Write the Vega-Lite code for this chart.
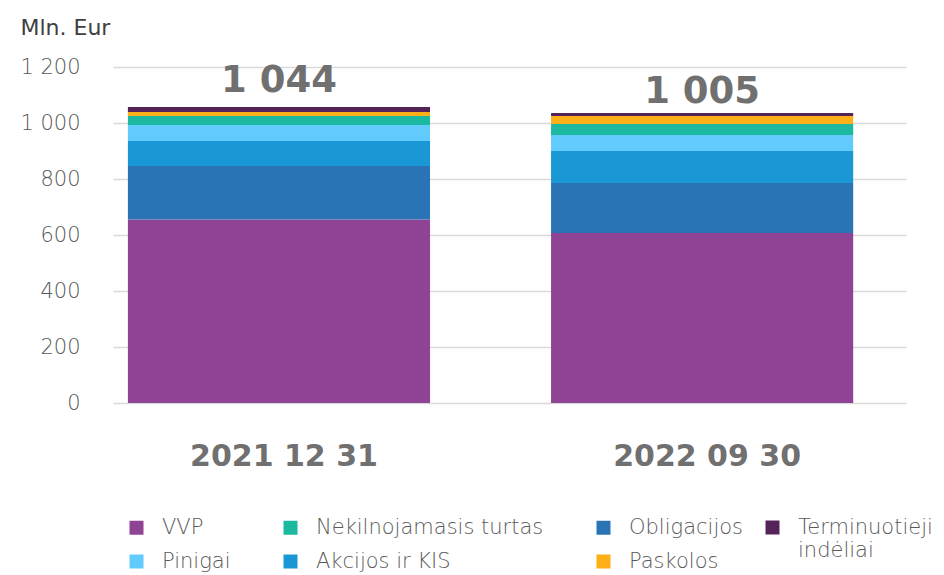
{
  "$schema": "https://vega.github.io/schema/vega-lite/v6.json",
  "width": 793,
  "height": 336,
  "autosize": {"type": "none"},
  "padding": {"left": 113, "top": 67, "right": 38, "bottom": 172},
  "background": "white",
  "config": {"view": {"stroke": null}, "font": "DejaVu Sans"},
  "datasets": {
    "parts": [
      {"date": "2021 12 31", "category": "VVP", "rank": 1, "value": 655},
      {"date": "2021 12 31", "category": "Obligacijos", "rank": 2, "value": 191},
      {"date": "2021 12 31", "category": "Akcijos ir KIS", "rank": 3, "value": 90},
      {"date": "2021 12 31", "category": "Pinigai", "rank": 4, "value": 57},
      {"date": "2021 12 31", "category": "Nekilnojamasis turtas", "rank": 5, "value": 32},
      {"date": "2021 12 31", "category": "Paskolos", "rank": 6, "value": 14},
      {"date": "2021 12 31", "category": "Terminuotieji indėliai", "rank": 7, "value": 18},
      {"date": "2022 09 30", "category": "VVP", "rank": 1, "value": 607},
      {"date": "2022 09 30", "category": "Obligacijos", "rank": 2, "value": 179},
      {"date": "2022 09 30", "category": "Akcijos ir KIS", "rank": 3, "value": 114},
      {"date": "2022 09 30", "category": "Pinigai", "rank": 4, "value": 57},
      {"date": "2022 09 30", "category": "Nekilnojamasis turtas", "rank": 5, "value": 39},
      {"date": "2022 09 30", "category": "Paskolos", "rank": 6, "value": 29},
      {"date": "2022 09 30", "category": "Terminuotieji indėliai", "rank": 7, "value": 11}
    ],
    "totals": [
      {"date": "2021 12 31", "total": 1044, "label": "1 044"},
      {"date": "2022 09 30", "total": 1005, "label": "1 005"}
    ]
  },
  "layer": [
    {
      "data": {"name": "parts"},
      "mark": {"type": "bar", "strokeWidth": 0},
      "encoding": {
        "x": {
          "field": "date",
          "type": "nominal",
          "sort": ["2021 12 31", "2022 09 30"],
          "scale": {"paddingInner": 0.286, "paddingOuter": 0.08, "align": 0.22},
          "axis": {
            "title": null,
            "labelAngle": 0,
            "domain": false,
            "ticks": false,
            "labelFont": "DejaVu Sans",
            "labelFontSize": 30,
            "labelFontWeight": "bold",
            "labelColor": "#707070",
            "labelPadding": 38,
            "labelOffset": 5,
            "labelLimit": 400
          }
        },
        "y": {
          "field": "value",
          "type": "quantitative",
          "scale": {"domain": [0, 1200]},
          "axis": {
            "values": [0, 200, 400, 600, 800, 1000, 1200],
            "grid": true,
            "gridColor": "#d9d9d9",
            "gridWidth": 1.5,
            "domain": false,
            "ticks": false,
            "labelFont": "DejaVu Sans",
            "labelFontSize": 21,
            "labelFontWeight": 300,
            "labelColor": "#595959",
            "labelPadding": 33,
            "labelExpr": "replace(format(datum.value, ','), ',', ' ')",
            "title": "Mln. Eur",
            "titleAngle": 0,
            "titleX": -93,
            "titleY": -40,
            "titleAlign": "left",
            "titleBaseline": "middle",
            "titleFont": "DejaVu Sans",
            "titleFontSize": 22,
            "titleFontWeight": "normal",
            "titleColor": "#404040"
          }
        },
        "fill": {
          "field": "category",
          "type": "nominal",
          "scale": {
            "domain": ["VVP", "Nekilnojamasis turtas", "Obligacijos", "Pinigai", "Akcijos ir KIS", "Paskolos", "Terminuotieji indėliai"],
            "range": ["#8E4395", "#1DB8A0", "#2A74B6", "#60CBFC", "#1A98D5", "#FCAF17", "#542458"]
          },
          "legend": {
            "values": ["VVP", "Nekilnojamasis turtas", "Obligacijos", "Pinigai", "Akcijos ir KIS", "Paskolos"],
            "orient": "none",
            "legendX": 13,
            "legendY": 450,
            "direction": "horizontal",
            "columns": 3,
            "title": null,
            "symbolType": "square",
            "symbolSize": 196,
            "symbolStrokeWidth": 0,
            "symbolOpacity": 1,
            "labelFont": "DejaVu Sans",
            "labelFontSize": 21,
            "labelFontWeight": 300,
            "labelColor": "#595959",
            "labelOffset": 15,
            "columnPadding": 49,
            "rowPadding": 12,
            "labelLimit": 400
          }
        },
        "stroke": {
          "field": "category",
          "type": "nominal",
          "scale": {
            "domain": ["Terminuotieji indėliai"],
            "range": ["#542458"]
          },
          "legend": {
            "values": ["Terminuotieji indėliai"],
            "orient": "none",
            "legendX": 649,
            "legendY": 450,
            "title": null,
            "symbolType": "square",
            "symbolSize": 196,
            "symbolFillColor": "#542458",
            "symbolStrokeWidth": 0,
            "symbolOpacity": 1,
            "labelFont": "DejaVu Sans",
            "labelFontSize": 21,
            "labelFontWeight": 300,
            "labelLineHeight": 23,
            "labelColor": "#595959",
            "labelOffset": 15,
            "labelLimit": 400,
            "labelExpr": "['Terminuotieji', 'indėliai']"
          }
        },
        "order": {"field": "rank", "type": "quantitative"}
      }
    },
    {
      "data": {"name": "totals"},
      "mark": {
        "type": "text",
        "baseline": "alphabetic",
        "dy": -19,
        "font": "DejaVu Sans",
        "fontSize": 37,
        "fontWeight": "bold",
        "color": "#707070"
      },
      "encoding": {
        "x": {"field": "date", "type": "nominal", "sort": ["2021 12 31", "2022 09 30"]},
        "y": {"field": "total", "type": "quantitative"},
        "text": {"field": "label"}
      }
    }
  ]
}
